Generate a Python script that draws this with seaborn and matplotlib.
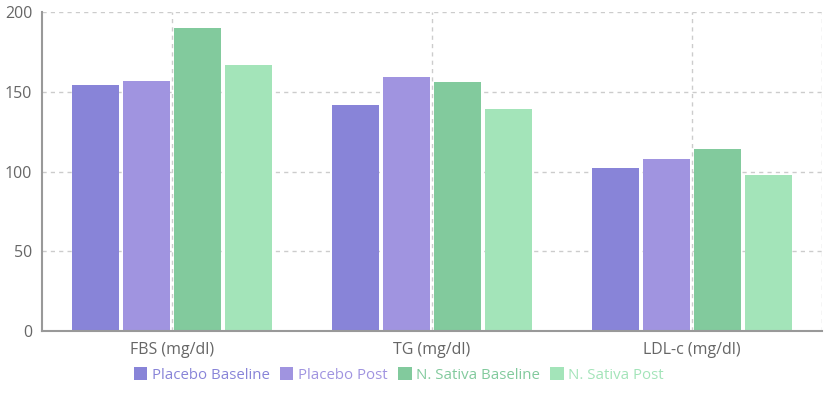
import pandas as pd
import matplotlib.pyplot as plt
import seaborn as sns
from matplotlib.patches import Patch

# --- dados ---
categorias = ['FBS (mg/dl)', 'TG (mg/dl)', 'LDL-c (mg/dl)']
series = ['Placebo Baseline', 'Placebo Post', 'N. Sativa Baseline', 'N. Sativa Post']
placebo_baseline = [154, 142, 102]
placebo_post = [157, 159, 108]
sativa_baseline = [190, 156, 114]
sativa_post = [167, 139, 98]
cores = ['#8884d8', '#a094e0', '#82ca9d', '#a3e4b9']

valores = [placebo_baseline, placebo_post, sativa_baseline, sativa_post]
linhas = []
for s, vals in zip(series, valores):
    for c, v in zip(categorias, vals):
        linhas.append({'categoria': c, 'serie': s, 'valor': v})
df = pd.DataFrame(linhas)

sns.set_style('white')
plt.rcParams['font.family'] = ['Open Sans', 'DejaVu Sans']

fig = plt.figure(figsize=(8.36, 3.96), dpi=100)
ax = fig.add_axes([42 / 836, 65 / 396, 780 / 836, 319 / 396])

sns.barplot(data=df, x='categoria', y='valor', hue='serie', palette=cores,
            width=0.785, gap=0.07, linewidth=0, saturation=1, ax=ax, legend=False)

ax.set_ylim(0, 200)
ax.set_xlim(-0.5, 2.5)
ax.set_yticks([0, 50, 100, 150, 200])
ax.set_xlabel('')
ax.set_ylabel('')

# grade tracejada
ax.set_axisbelow(True)
for y in [50, 100, 150, 200]:
    ax.axhline(y, color='#cccccc', linestyle=(0, (3, 3)), linewidth=1, zorder=0)
for x in [0, 1, 2, 2.5]:
    ax.axvline(x, color='#cccccc', linestyle=(0, (3, 3)), linewidth=1, zorder=0)

for lado in ['top', 'right']:
    ax.spines[lado].set_visible(False)
ax.spines['left'].set_color('#999999')
ax.spines['bottom'].set_color('#999999')
ax.spines['left'].set_linewidth(1.5)
ax.spines['bottom'].set_linewidth(1.5)

ax.tick_params(axis='both', colors='#666666', labelsize=11.5, length=5, width=1,
               direction='out')
ax.tick_params(axis='x', pad=3)
ax.tick_params(axis='y', pad=2)

handles = [Patch(facecolor=c, edgecolor='none') for c in cores]
fig.legend(handles, series, loc='center', bbox_to_anchor=(0.477, 21 / 396),
           ncol=4, frameon=False, labelcolor=cores, fontsize=10.8,
           handlelength=0.9, handleheight=0.9, handletextpad=0.3, columnspacing=0.7)

plt.savefig('out.png', dpi=100)
plt.close()
